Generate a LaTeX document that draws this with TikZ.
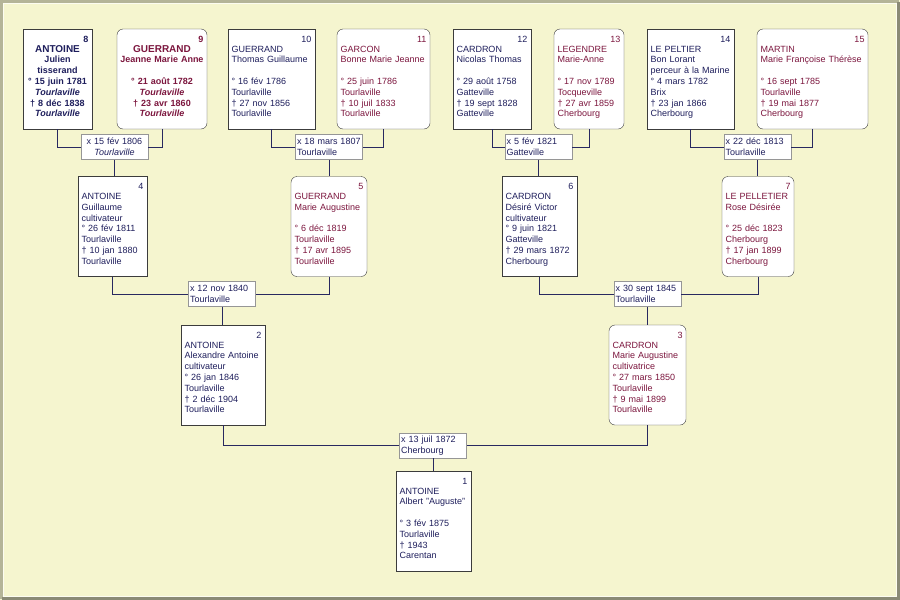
\documentclass[tikz,border=0pt]{standalone}
\usepackage{fontspec}
\setmainfont{Liberation Sans}
\definecolor{paper}{RGB}{245,245,207}
\definecolor{edgelight}{RGB}{180,180,152}
\definecolor{edgedark}{RGB}{138,138,118}
\definecolor{mancol}{RGB}{30,30,92}
\definecolor{womancol}{RGB}{124,22,62}
\definecolor{boxline}{RGB}{60,60,60}
\definecolor{wedline}{RGB}{150,150,150}
\definecolor{linkcol}{RGB}{40,40,96}
\newcommand{\gennum}[1]{\mbox{}\hskip0pt plus1fill#1\\[-1pt]}
\newcommand{\genfont}{\fontsize{9}{10.8}\selectfont\hyphenpenalty=10000}
\newcommand{\gap}{\mbox{}\\}

\begin{document}
\begin{tikzpicture}[x=1pt,y=1pt]
\tikzstyle{every node}+=[font=\genfont]
\tikzstyle{man}=[draw=boxline, fill=white, minimum height=100pt, inner xsep=3.5pt, inner ysep=0pt, text height=6.5pt, text depth=80pt, align=left, text=mancol]
\tikzstyle{woman}=[man, rounded corners=6pt, text=womancol]
\tikzstyle{wed}=[draw=wedline, fill=white, inner xsep=1.5pt, inner ysep=2pt, text width=64pt, minimum height=25pt, align=left, text=mancol]
\tikzstyle{link}=[draw=linkcol, line width=0.9pt]
% page and frame
\fill [paper] (0,0) rectangle (900,-600);
\useasboundingbox (0,0) rectangle (900,-600);
\draw [edgelight, line width=3pt] (1.5,-598.5) -- (1.5,-1.5) -- (898.5,-1.5);
\draw [edgedark, line width=3pt] (898.5,-1.5) -- (898.5,-598.5) -- (1.5,-598.5);
\draw [white!70!paper, line width=1pt] (3.5,-596.5) rectangle (896.5,-3.5);
% generation 4
\node [man, text width=62pt, align=center, font=\genfont\bfseries] (p8) at (57.5,-79) {\gennum{8}{\fontsize{10}{10.8}\selectfont ANTOINE}\\Julien\\tisserand\\° 15 juin 1781\\\textit{Tourlaville}\\† 8 déc 1838\\\textit{Tourlaville}};
\node [woman, text width=83pt, align=center, font=\genfont\bfseries] (p9) at (162,-79) {\gennum{9}{\fontsize{10}{10.8}\selectfont GUERRAND}\\\makebox[\linewidth]{Jeanne Marie Anne}\\\gap° 21 août 1782\\\textit{Tourlaville}\\† 23 avr 1860\\\textit{Tourlaville}};
\node [man, text width=80pt] (p10) at (271.5,-79) {\gennum{10}GUERRAND\\Thomas Guillaume\\\gap° 16 fév 1786\\Tourlaville\\† 27 nov 1856\\Tourlaville};
\node [woman, text width=86pt] (p11) at (383.5,-79) {\gennum{11}GARCON\\Bonne Marie Jeanne\\\gap° 25 juin 1786\\Tourlaville\\† 10 juil 1833\\Tourlaville};
\node [man, text width=71pt] (p12) at (492,-79) {\gennum{12}CARDRON\\Nicolas Thomas\\\gap° 29 août 1758\\Gatteville\\† 19 sept 1828\\Gatteville};
\node [woman, text width=63pt] (p13) at (589,-79) {\gennum{13}LEGENDRE\\Marie-Anne\\\gap° 17 nov 1789\\Tocqueville\\† 27 avr 1859\\Cherbourg};
\node [man, text width=80pt] (p14) at (690.5,-79) {\gennum{14}LE PELTIER\\Bon Lorant\\perceur à la Marine\\° 4 mars 1782\\Brix\\† 23 jan 1866\\Cherbourg};
\node [woman, text width=104pt] (p15) at (812.5,-79) {\gennum{15}MARTIN\\Marie Françoise Thérèse\\\gap° 16 sept 1785\\Tourlaville\\† 19 mai 1877\\Cherbourg};
\node [wed, align=center] (m1) at (114.5,-147) {x 15 fév 1806\\\textit{Tourlaville}};
\node [wed] (m2) at (329,-147) {x 18 mars 1807\\Tourlaville};
\node [wed] (m3) at (538.5,-147) {x 5 fév 1821\\Gatteville};
\node [wed] (m4) at (757.5,-147) {x 22 déc 1813\\Tourlaville};
% generation 3
\node [man, text width=62pt] (p4) at (112.5,-226.5) {\gennum{4}ANTOINE\\Guillaume\\cultivateur\\° 26 fév 1811\\Tourlaville\\† 10 jan 1880\\Tourlaville};
\node [woman, text width=69pt] (p5) at (329,-226.5) {\gennum{5}GUERRAND\\Marie Augustine\\\gap° 6 déc 1819\\Tourlaville\\† 17 avr 1895\\Tourlaville};
\node [man, text width=68pt] (p6) at (539.5,-226.5) {\gennum{6}CARDRON\\Désiré Victor\\cultivateur\\° 9 juin 1821\\Gatteville\\† 29 mars 1872\\Cherbourg};
\node [woman, text width=65pt] (p7) at (758,-226.5) {\gennum{7}LE PELLETIER\\Rose Désirée\\\gap° 25 déc 1823\\Cherbourg\\† 17 jan 1899\\Cherbourg};
\node [wed] (m5) at (222,-294) {x 12 nov 1840\\Tourlaville};
\node [wed] (m6) at (647.5,-294) {x 30 sept 1845\\Tourlaville};
% generation 2
\node [man, text width=77pt] (p2) at (223,-375) {\gennum{2}ANTOINE\\Alexandre Antoine\\cultivateur\\° 26 jan 1846\\Tourlaville\\† 2 déc 1904\\Tourlaville};
\node [woman, text width=70pt] (p3) at (647.5,-375) {\gennum{3}CARDRON\\Marie Augustine\\cultivatrice\\° 27 mars 1850\\Tourlaville\\† 9 mai 1899\\Tourlaville};
\node [wed] (m7) at (433,-445.5) {x 13 juil 1872\\Cherbourg};
% generation 1
\node [man, text width=68pt] (p1) at (433.5,-521) {\gennum{1}ANTOINE\\Albert "Auguste"\\\gap° 3 fév 1875\\Tourlaville\\† 1943\\Carentan};
% links
\draw [link] (p8.south) |- (m1.west);
\draw [link] (p9.south) |- (m1.east);
\draw [link] (m1.south) -- (m1.south |- p4.north);
\draw [link] (p10.south) |- (m2.west);
\draw [link] (p11.south) |- (m2.east);
\draw [link] (m2.south) -- (m2.south |- p5.north);
\draw [link] (p12.south) |- (m3.west);
\draw [link] (p13.south) |- (m3.east);
\draw [link] (m3.south) -- (m3.south |- p6.north);
\draw [link] (p14.south) |- (m4.west);
\draw [link] (p15.south) |- (m4.east);
\draw [link] (m4.south) -- (m4.south |- p7.north);
\draw [link] (p4.south) |- (m5.west);
\draw [link] (p5.south) |- (m5.east);
\draw [link] (m5.south) -- (m5.south |- p2.north);
\draw [link] (p6.south) |- (m6.west);
\draw [link] (p7.south) |- (m6.east);
\draw [link] (m6.south) -- (m6.south |- p3.north);
\draw [link] (p2.south) |- (m7.west);
\draw [link] (p3.south) |- (m7.east);
\draw [link] (m7.south) -- (m7.south |- p1.north);
\end{tikzpicture}
\end{document}
